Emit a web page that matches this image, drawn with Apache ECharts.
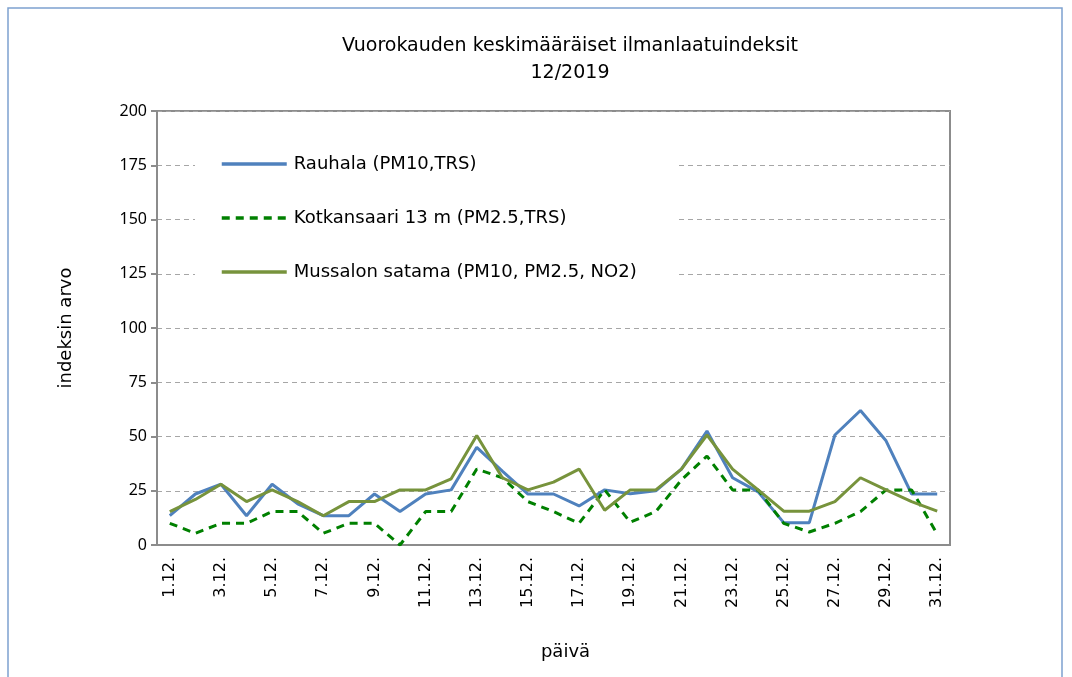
<!DOCTYPE html>
<html>
<head>
<meta charset="utf-8">
<script src="https://cdn.jsdelivr.net/npm/echarts@6/dist/echarts.min.js"></script>
<style>
  html, body { margin: 0; padding: 0; background: #fff; }
</style>
</head>
<body>
<div id="chart" style="width: 1072px; height: 677px;"></div>
<script>
  // päivät 1.12. - 31.12.
  const days = []
  for (let d = 1; d <= 31; d++) days.push(d + '.12.')

  const rauhala = [13.5, 23.5, 28, 13.5, 28, 19, 13.5, 13.5, 23.5, 15.4, 23.5, 25.4, 45, 34, 23.5, 23.5, 18, 25.4, 23.6, 25, 35, 52.5, 31, 24.5, 10.3, 10.3, 50.7, 62, 48, 23.5, 23.5]
  const kotkansaari = [10, 5.4, 10, 10, 15.4, 15.4, 5.4, 10, 10, 0, 15.4, 15.4, 35, 31, 20, 15.4, 10, 25.4, 10.5, 15.4, 30, 41, 25.4, 25.4, 10, 6, 10, 15.4, 25.4, 25.4, 5]
  const mussalo = [15.4, 21, 28, 20, 25.4, 20, 13.5, 20, 20, 25.4, 25.4, 30.5, 50.5, 31, 25.4, 29, 35, 16, 25.4, 25.4, 35, 50.7, 35, 25.4, 15.6, 15.6, 20, 31, 25.4, 20, 15.6]

  const seriesNames = ['Rauhala (PM10,TRS)', 'Kotkansaari 13 m (PM2.5,TRS)', 'Mussalon satama (PM10, PM2.5, NO2)']
  const colors = ['#4f81bd', '#008000', '#77933c']
  const font = 'DejaVu Sans'

  const chart = echarts.init(document.getElementById('chart'))

  const options = {
    backgroundColor: '#fff',
    animation: false,
    title: {
      text: 'Vuorokauden keskimääräiset ilmanlaatuindeksit\n12/2019',
      left: 565,
      textAlign: 'center',
      top: 28,
      textStyle: {
        fontFamily: font,
        fontSize: 19,
        fontWeight: 'normal',
        color: '#000',
        lineHeight: 27
      }
    },
    graphic: [{
      type: 'rect',
      shape: { x: 8, y: 8, width: 1054, height: 720 },
      style: { fill: 'none', stroke: '#7ea1cf', lineWidth: 1.5 },
      silent: true
    }],
    legend: {
      orient: 'vertical',
      left: 195,
      top: 133,
      data: [
        { name: seriesNames[0], lineStyle: { width: 3.5, color: colors[0] } },
        { name: seriesNames[1], lineStyle: { width: 3.5, color: colors[1], type: [8, 6] } },
        { name: seriesNames[2], lineStyle: { width: 3.5, color: colors[2] } }
      ],
      itemStyle: { opacity: 0 },
      backgroundColor: '#fff',
      padding: [22, 40, 20, 25],
      itemWidth: 65,
      itemHeight: 20,
      itemGap: 36,
      textStyle: { fontFamily: font, fontSize: 18, color: '#000', padding: [0, 0, 0, 2] },
      z: 10
    },
    grid: {
      left: 157,
      right: 122,
      top: 111,
      bottom: 132,
      show: true,
      borderColor: '#8c8c8c',
      borderWidth: 2
    },
    xAxis: {
      type: 'category',
      data: days,
      boundaryGap: true,
      name: 'päivä',
      nameLocation: 'middle',
      nameGap: 98,
      nameTextStyle: { fontFamily: font, fontSize: 18, color: '#000', padding: [0, 0, 0, 24] },
      axisLine: { lineStyle: { color: '#8c8c8c', width: 2 } },
      axisTick: { interval: 0, length: 6, lineStyle: { color: '#8c8c8c', width: 2 } },
      axisLabel: {
        interval: 1,
        rotate: 90,
        margin: 12,
        fontFamily: font,
        fontSize: 16,
        color: '#000'
      },
      splitLine: { show: false }
    },
    yAxis: {
      type: 'value',
      min: 0,
      max: 200,
      interval: 25,
      name: 'indeksin arvo',
      nameLocation: 'middle',
      nameGap: 82,
      nameRotate: 90,
      nameTextStyle: { fontFamily: font, fontSize: 18, color: '#000' },
      axisLine: { show: true, lineStyle: { color: '#8c8c8c', width: 2 } },
      axisTick: { show: true, length: 6, lineStyle: { color: '#8c8c8c', width: 2 } },
      axisLabel: { fontFamily: 'Noto Sans', fontSize: 16, color: '#000', margin: 10 },
      splitLine: { lineStyle: { color: '#a6a6a6', width: 1, type: [5, 4] } }
    },
    series: [
      {
        name: seriesNames[0],
        type: 'line',
        data: rauhala,
        symbol: 'none',
        lineStyle: { color: colors[0], width: 3 },
        itemStyle: { color: colors[0] }
      },
      {
        name: seriesNames[1],
        type: 'line',
        data: kotkansaari,
        symbol: 'none',
        lineStyle: { color: colors[1], width: 3, type: [8, 6] },
        itemStyle: { color: colors[1] }
      },
      {
        name: seriesNames[2],
        type: 'line',
        data: mussalo,
        symbol: 'none',
        lineStyle: { color: colors[2], width: 3 },
        itemStyle: { color: colors[2] }
      }
    ]
  }

  chart.setOption(options)
</script>
</body>
</html>
